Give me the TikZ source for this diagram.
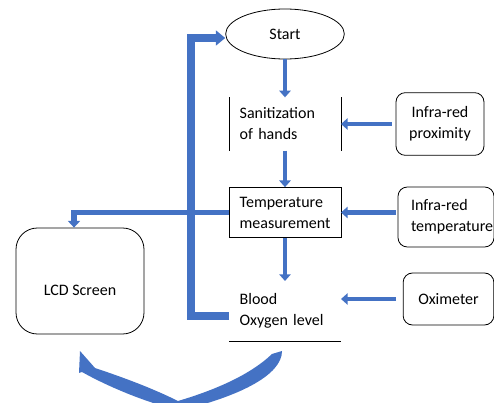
\documentclass[tikz,border=0pt]{standalone}
\usepackage{fontspec}
\setmainfont{Carlito}
\usetikzlibrary{arrows.meta,shapes.geometric}
\definecolor{flowblue}{RGB}{68,114,196}
\tikzset{stagebox/.style={inner xsep=8pt,inner ysep=0pt,text width=68pt,align=left,outer sep=0},
  sensorbox/.style={draw,line width=0.6pt,rounded corners=7pt,inner sep=0,align=center},
  flowarrow/.style={draw=flowblue,line width=3.5pt,-{Triangle[length=5pt,width=8.5pt]}}}

\begin{document}
\begin{tikzpicture}[x=0.75pt,y=-0.75pt,font=\fontsize{12}{15.75}\selectfont]
 \useasboundingbox (0,0) rectangle (494,403);
 \node[draw,ellipse,line width=0.6pt,minimum width=89pt,minimum height=37.5pt,inner sep=0] (start) at (285,34) {Start};
 \node[stagebox,minimum height=40pt] (sanit) at (285,124) {Sanitization\\of hands};
 \node[stagebox,draw,line width=0.6pt,minimum height=38pt] (temp) at (285,212.5) {Temperature\\measurement};
 \node[stagebox,minimum height=45pt] (blood) at (285,311) {Blood\\Oxygen level};
 \node[sensorbox,minimum width=66pt,minimum height=47pt] (prox) at (440,124) {Infra-red\\proximity};
 \node[sensorbox,align=left,text width=52.5pt,inner xsep=9.75pt,minimum height=45pt] (irtemp) at (446,217) {Infra-red\\temperature};
 \node[sensorbox,minimum width=68pt,minimum height=39pt] (oxi) at (448.5,299) {Oximeter};
 \node[sensorbox,rounded corners=16pt,minimum width=96pt,minimum height=79.5pt,text height=22pt,text depth=0pt] (lcd) at (80,281) {LCD Screen};
 % open sides of the stage boxes
 \draw[line width=0.6pt] (sanit.north west) -- (sanit.south west) (sanit.north east) -- (sanit.south east);
 \draw[line width=0.6pt] (blood.south west) -- (blood.south east);
 % main flow
 \draw[flowarrow] (start) -- (sanit);
 \draw[flowarrow] (sanit) -- (temp);
 \draw[flowarrow] (temp) -- (blood);
 \draw[flowarrow,shorten <=3pt] (prox) -- (sanit);
 \draw[flowarrow,shorten <=1.5pt] (irtemp.west |- temp) -- (temp.east);
 \draw[flowarrow,shorten <=5pt] (oxi.west) -- (oxi.west -| blood.east);
 \draw[flowarrow,line width=4pt,-{Triangle[length=5pt,width=9pt]}] (temp.west) -| ([xshift=-4.5pt]lcd.north);
 \draw[flowarrow,line width=6pt,-{Triangle[length=7pt,width=11pt]}] ([yshift=-4pt]blood.west) -- ++(-38,0) |- ([yshift=-3pt]start.west);
 % curved arrow back to the screen
 \fill[flowblue] (80,351) -- (95,368) .. controls (122,377) and (152,388) .. (178,401) .. controls (215,390) and (250,375) .. (272,354) -- (282,351) .. controls (282,375) and (240,395) .. (190,408) -- (170,408) .. controls (140,400) and (105,385) .. (82,372) -- (79,373) -- cycle;
\end{tikzpicture}
\end{document}
